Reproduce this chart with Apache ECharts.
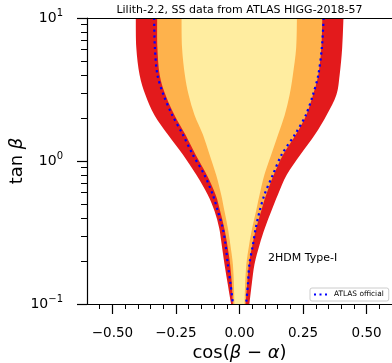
<!DOCTYPE html>
<html><head><meta charset="utf-8">
<script src="https://cdn.jsdelivr.net/npm/echarts@6/dist/echarts.min.js"></script>
<style>html,body{margin:0;padding:0;background:#fff}#c{width:392px;height:363px}</style>
</head><body><div id="c"></div>
<script>
const FONT = 'DejaVu Sans';
// tan(beta) levels (rows)
const tanBeta    = [10, 6.2, 4.0, 2.9, 2.1, 1.53, 1.11, 0.80, 0.58, 0.445, 0.34, 0.26, 0.19, 0.137, 0.1];
// cos(beta-alpha) boundaries for each level
const redLeft    = [-0.408,-0.406,-0.393,-0.370,-0.335,-0.282,-0.223,-0.170,-0.125,-0.098,-0.080,-0.070,-0.059,-0.046,-0.033];
const orangeLeft = [-0.324,-0.323,-0.314,-0.291,-0.256,-0.213,-0.173,-0.129,-0.094,-0.076,-0.060,-0.048,-0.037,-0.030,-0.026];
const yellowLeft = [-0.228,-0.226,-0.215,-0.200,-0.177,-0.144,-0.118,-0.092,-0.072,-0.059,-0.046,-0.036,-0.026,-0.022,-0.020];
const yellowRight= [0.226,0.223,0.210,0.197,0.178,0.152,0.125,0.098,0.079,0.065,0.050,0.038,0.027,0.022,0.020];
const orangeRight= [0.326,0.322,0.310,0.289,0.263,0.222,0.172,0.135,0.105,0.085,0.066,0.051,0.037,0.030,0.024];
const redRight   = [0.409,0.404,0.394,0.381,0.343,0.297,0.240,0.186,0.151,0.125,0.100,0.079,0.059,0.048,0.039];
const atlasLeft  = [-0.336,-0.333,-0.323,-0.299,-0.265,-0.223,-0.184,-0.138,-0.105,-0.085,-0.066,-0.055,-0.046,-0.035,-0.026];
const atlasRight = [0.331,0.324,0.310,0.289,0.261,0.218,0.166,0.131,0.098,0.079,0.064,0.053,0.039,0.033,0.026];

const xMajorTicks = [-0.5, -0.25, 0, 0.25, 0.5];
const xMinorTicks = [-0.55,-0.5,-0.45,-0.4,-0.35,-0.3,-0.25,-0.2,-0.15,-0.1,-0.05,0,0.05,0.1,0.15,0.2,0.25,0.3,0.35,0.4,0.45,0.5,0.55];
const yMajorTicks = [0.1, 1, 10];
const yMinorTicks = [0.2,0.3,0.4,0.5,0.6,0.7,0.8,0.9,2,3,4,5,6,7,8,9];

const titleText = 'Lilith-2.2, SS data from ATLAS HIGG-2018-57';
const modelText = '2HDM Type-I';
const legendName = 'ATLAS official';

// smooth (Catmull-Rom) path through pixel points
function curveSegs(p) {
  let d = '';
  for (let i = 0; i < p.length - 1; i++) {
    const p0 = p[Math.max(i - 1, 0)], p1 = p[i], p2 = p[i + 1], p3 = p[Math.min(i + 2, p.length - 1)];
    const c1 = [p1[0] + (p2[0] - p0[0]) / 6, p1[1] + (p2[1] - p0[1]) / 6];
    const c2 = [p2[0] - (p3[0] - p1[0]) / 6, p2[1] - (p3[1] - p1[1]) / 6];
    d += ' C' + c1[0] + ' ' + c1[1] + ' ' + c2[0] + ' ' + c2[1] + ' ' + p2[0] + ' ' + p2[1];
  }
  return d;
}
function band(name, left, right, color) {
  const pts = left.map((x, i) => [x, tanBeta[i]])
    .concat(right.map((x, i) => [x, tanBeta[i]]).reverse());
  return {
    type: 'custom', name: name, silent: true, z: 1, clip: true,
    coordinateSystem: 'cartesian2d',
    data: pts, encode: { x: 0, y: 1 },
    renderItem: function (params, api) {
      if (params.dataIndex !== 0) return null;
      const L = left.map((x, i) => api.coord([x, tanBeta[i]]));
      const R = right.map((x, i) => api.coord([x, tanBeta[i]])).reverse();
      const d = 'M' + L[0][0] + ' ' + L[0][1] + curveSegs(L) +
        ' L' + R[0][0] + ' ' + R[0][1] + curveSegs(R) + ' Z';
      return { type: 'path', shape: { pathData: d }, style: { fill: color } };
    }
  };
}
function atlasLine(vals) {
  return {
    type: 'line', name: legendName, z: 3, smooth: 0.3, symbol: 'none', clip: true,
    data: vals.map((x, i) => [x, tanBeta[i]]),
    lineStyle: { color: '#0000ff', width: 2.2, type: [2.2, 3.6], cap: 'butt' },
    itemStyle: { color: '#0000ff' }
  };
}

const chart = echarts.init(document.getElementById('c'), null, { renderer: 'canvas' });
const supFmt = v => {
  const e = Math.round(Math.log10(v));
  return '{b|10}{s|' + (e < 0 ? '\u2212' + (-e) : e) + '}';
};
const commonAxisLine = { show: true, onZero: false, lineStyle: { color: '#000', width: 1.2 } };
chart.setOption({
  animation: false,
  backgroundColor: '#fff',
  textStyle: { fontFamily: FONT },
  grid: { left: 87, right: 0, top: 18, bottom: 59, containLabel: false, outerBoundsMode: 'none' },
  legend: {
    data: [{ name: legendName, icon: 'path://M0,0h2v2h-2zM5.5,0h2v2h-2zM11,0h2v2h-2z' }],
    left: 310, top: 288, orient: 'vertical',
    padding: [3, 5, 3, 4], itemWidth: 13, itemHeight: 2.2, itemGap: 0,
    backgroundColor: 'rgba(255,255,255,0.8)', borderColor: '#cccccc', borderWidth: 1, borderRadius: 2,
    textStyle: { fontFamily: FONT, fontSize: 7.4, color: '#000', padding: [0, 0, 0, 2] }
  },
  xAxis: [
    {
      type: 'value', min: -0.6, max: 0.6, position: 'bottom', z: 5,
      axisLine: commonAxisLine,
      axisTick: { show: true, inside: false, length: 10, customValues: xMajorTicks, lineStyle: { color: '#000', width: 1.2 } },
      axisLabel: { customValues: xMajorTicks, margin: 22, fontFamily: FONT, fontSize: 13.5, color: '#000',
        formatter: v => (v < 0 ? '\u2212' : '') + Math.abs(v).toFixed(2) },
      splitLine: { show: false },
      name: '{n|cos(}{g|β}{n| \u2212 }{g|α}{n|)}', nameLocation: 'middle', nameGap: 40, nameMoveOverlap: false,
      nameTextStyle: { rich: { n: { fontFamily: FONT, fontSize: 18, color: '#000' }, g: { fontFamily: FONT, fontSize: 18, fontStyle: 'italic', color: '#000' } } }
    },
    {
      type: 'value', min: -0.6, max: 0.6, position: 'bottom', z: 5,
      axisLine: { show: false, onZero: false },
      axisTick: { show: true, length: 5, customValues: xMinorTicks, lineStyle: { color: '#000', width: 1 } },
      axisLabel: { show: false }, splitLine: { show: false }
    },
    {
      type: 'value', min: -0.6, max: 0.6, position: 'top', z: 5,
      axisLine: commonAxisLine, axisTick: { show: false }, axisLabel: { show: false }, splitLine: { show: false }
    }
  ],
  yAxis: [
    {
      type: 'log', logBase: 10, min: 0.1, max: 10, position: 'left', z: 5,
      axisLine: commonAxisLine,
      axisTick: { show: true, length: 10, customValues: yMajorTicks, lineStyle: { color: '#000', width: 1.2 } },
      axisLabel: { customValues: yMajorTicks, margin: 24, formatter: supFmt, color: '#000',
        rich: { b: { fontFamily: FONT, fontSize: 14, lineHeight: 20, color: '#000' },
                s: { fontFamily: FONT, fontSize: 10, lineHeight: 8, verticalAlign: 'top', color: '#000' } } },
      splitLine: { show: false },
      name: '{n|tan }{g|β}', nameLocation: 'middle', nameGap: 61, nameRotate: 90, nameMoveOverlap: false,
      nameTextStyle: { rich: { n: { fontFamily: FONT, fontSize: 18, color: '#000' }, g: { fontFamily: FONT, fontSize: 18, fontStyle: 'italic', color: '#000' } } }
    },
    {
      type: 'log', logBase: 10, min: 0.1, max: 10, position: 'left', z: 5,
      axisLine: { show: false, onZero: false },
      axisTick: { show: true, length: 6, customValues: yMinorTicks, lineStyle: { color: '#000', width: 1 } },
      axisLabel: { show: false }, splitLine: { show: false }
    }
  ],
  graphic: [
    { type: 'text', x: 239.5, y: 10, z: 10,
      style: { text: titleText, fontFamily: FONT, fontSize: 11, fill: '#000', textAlign: 'center', textVerticalAlign: 'middle' } },
    { type: 'text', x: 268, y: 258, z: 10,
      style: { text: modelText, fontFamily: FONT, fontSize: 11, fill: '#000', textAlign: 'left', textVerticalAlign: 'middle' } }
  ],
  series: [
    band('red', redLeft, redRight, '#e31a1c'),
    band('orange', orangeLeft, orangeRight, '#feb24c'),
    band('yellow', yellowLeft, yellowRight, '#ffeda0'),
    atlasLine(atlasLeft),
    atlasLine(atlasRight)
  ]
});
</script></body></html>
